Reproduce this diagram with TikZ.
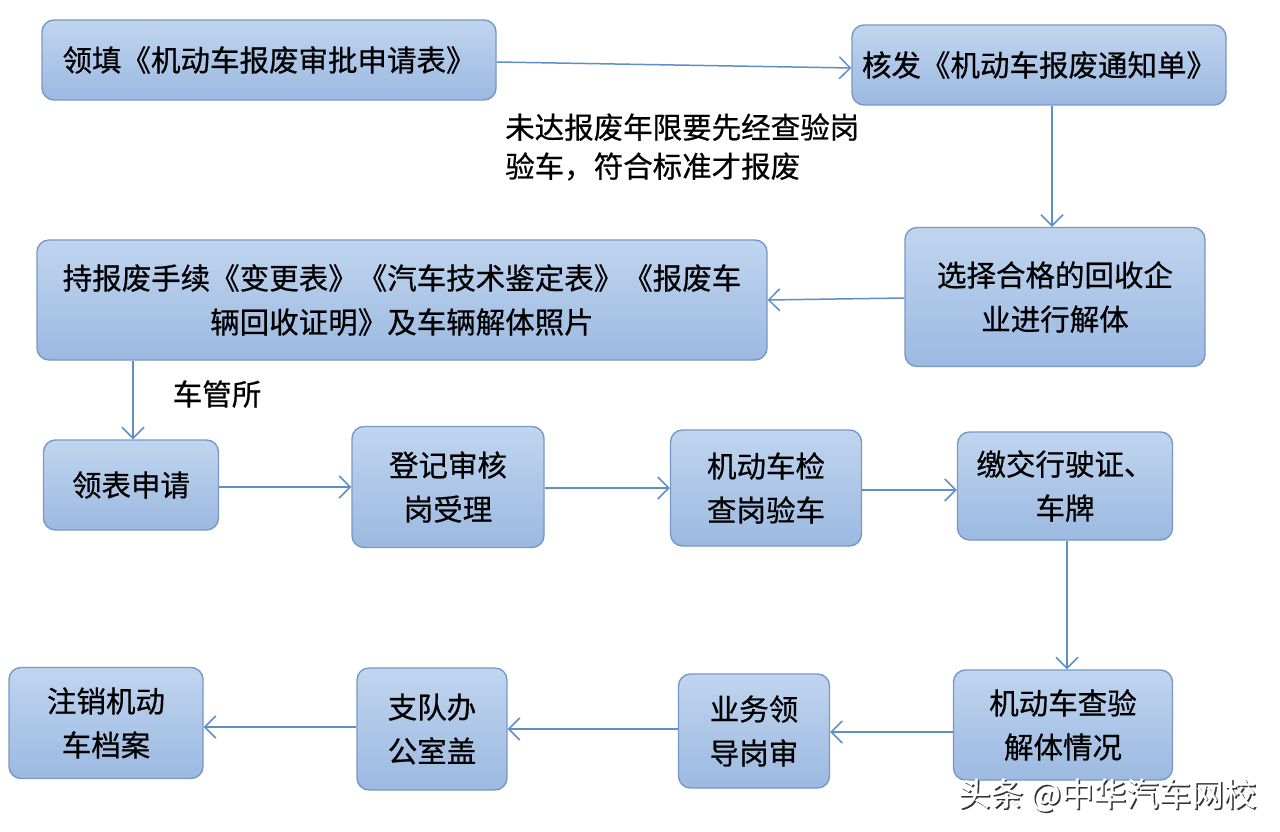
\documentclass[tikz,border=0pt]{standalone}
\usepackage{fontspec}
\setmainfont{Noto Sans CJK SC}[FakeBold=0.6]
\usetikzlibrary{arrows.meta}
\definecolor{boxtop}{HTML}{C0D5EF}
\definecolor{boxbot}{HTML}{9CB9E1}
\definecolor{boxline}{HTML}{7898C6}
\definecolor{arrowc}{HTML}{5F8FCB}
\tikzset{
  flowbox/.style={draw=boxline, line width=1.4pt, rounded corners=12pt,
    top color=boxtop, bottom color=boxbot, align=center, inner sep=0pt,
    font=\fontsize{29.5}{44}\selectfont, text=black},
  flow/.style={draw=arrowc, line width=1.5pt, -{Straight Barb[length=11pt,width=22pt,line width=1.5pt]}},
  note/.style={font=\fontsize{29.5}{39}\selectfont, text=black, inner sep=0pt},
}
\begin{document}
\begin{tikzpicture}[x=1pt,y=-1pt]
\useasboundingbox[fill=white] (0,0) rectangle (1280,832);
% boxes
\node[flowbox, minimum width=454pt, minimum height=80pt] (b1) at (269,60) {领填《机动车报废审批申请表》};
\node[flowbox, minimum width=374pt, minimum height=80pt] (b2) at (1039,65) {核发《机动车报废通知单》};
\node[flowbox, minimum width=300pt, minimum height=139pt] (b3) at (1055,297) {选择合格的回收企\\业进行解体};
\node[flowbox, minimum width=730pt, minimum height=120pt] (b4) at (402,300) {持报废手续《变更表》《汽车技术鉴定表》《报废车\\辆回收证明》及车辆解体照片};
\node[flowbox, minimum width=175pt, minimum height=90pt] (b5) at (131,485) {领表申请};
\node[flowbox, minimum width=192pt, minimum height=121pt] (b6) at (448,487) {登记审核\\岗受理};
\node[flowbox, minimum width=191pt, minimum height=116pt] (b7) at (766,488) {机动车检\\查岗验车};
\node[flowbox, minimum width=215pt, minimum height=108pt] (b8) at (1065,486) {缴交行驶证、\\车牌};
\node[flowbox, minimum width=219pt, minimum height=110pt] (b9) at (1063,725) {机动车查验\\解体情况};
\node[flowbox, minimum width=151pt, minimum height=114pt] (b10) at (754,731) {业务领\\导岗审};
\node[flowbox, minimum width=150pt, minimum height=122pt] (b11) at (432,729) {支队办\\公室盖};
\node[flowbox, minimum width=194pt, minimum height=111pt] (b12) at (106,723) {注销机动\\车档案};
% labels
\node[note, anchor=west, align=left] (n1) at (505,147) {未达报废年限要先经查验岗\\验车，符合标准才报废};
\node[note] (n2) at (217,394) {车管所};
% watermark
\node[font=\fontsize{32.5}{32}\selectfont, text=black!80, inner sep=0pt] (wm0) at (1108.5,796.5) {头条 @中华汽车网校};
\node[font=\fontsize{32.5}{32}\selectfont, text=white, inner sep=0pt] (wm) at (1107,795) {头条 @中华汽车网校};
% connectors
\draw[flow] (b1.east |- 0,62) -- (b2.west |- 0,68);
\draw[flow] (b2.south -| 1052,0) -- (b3.north -| 1052,0);
\draw[flow] (b3.west |- 0,298) -- (b4.east |- 0,300);
\draw[flow] (b4.south -| 133,0) -- (b5.north -| 133,0);
\draw[flow] (b5.east |- 0,487) -- (b6.west |- 0,487);
\draw[flow] (b6.east |- 0,488) -- (b7.west |- 0,488);
\draw[flow] (b7.east |- 0,490) -- (b8.west |- 0,490);
\draw[flow] (b8.south -| 1067,0) -- (b9.north -| 1067,0);
\draw[flow] (b9.west |- 0,732) -- (b10.east |- 0,732);
\draw[flow] (b10.west |- 0,729) -- (b11.east |- 0,729);
\draw[flow] (b11.west |- 0,727) -- (b12.east |- 0,727);
\end{tikzpicture}
\end{document}
